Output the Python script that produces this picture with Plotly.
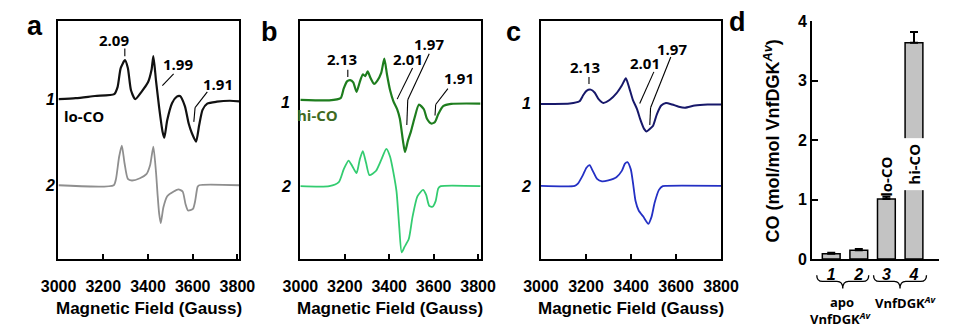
import plotly.graph_objects as go

W, H = 957, 335

# ---------------- data ----------------
# Panel a : lo-CO  (field in Gauss, derivative intensity in a.u.)
a1_field = [3000, 3077, 3163, 3249, 3264, 3278, 3297, 3310, 3324, 3343, 3371, 3400, 3416, 3424, 3436, 3450,
            3465, 3473, 3486, 3508, 3529, 3543, 3565, 3582, 3596, 3615, 3629, 3644, 3665, 3708, 3766, 3809]
a1_int = [0.5, 1.5, 3.8, 5.8, 13.2, 33.2, 41.5, 33.2, 9.8, 0.5, 8.2, 18.2, 31.5, 45.8, 19.8, -8.5,
          -33.5, -40.2, -21.8, -3.5, 3.2, 3.8, -6.8, -25.2, -35.2, -44.2, -26.8, -10.8, -4.2, -2.2, -1.2, -1.8]
a2_field = [3000, 3247, 3257, 3271, 3283, 3295, 3310, 3328, 3364, 3393, 3410, 3424, 3436, 3443, 3450, 3457,
            3469, 3486, 3515, 3536, 3555, 3568, 3579, 3601, 3611, 3622, 3629, 3809]
a2_int = [0, 0, 6.7, 30, 41.7, 23.4, 6.7, 5, 7.4, 11.7, 21.7, 40.7, 13.4, -10, -30, -40,
          -23.3, -11.6, -6.6, -4.3, -6.6, -20, -26.6, -25, -16.6, -1.6, 0, 0]

# Panel b : hi-CO
b1_field = [3000, 3130, 3181, 3195, 3210, 3224, 3238, 3253, 3267, 3281, 3292, 3303, 3315, 3332, 3346, 3364,
            3378, 3390, 3404, 3419, 3436, 3448, 3462, 3471, 3484, 3498, 3513, 3534, 3556, 3570, 3589, 3606,
            3621, 3643, 3679, 3811]
b1_int = [0, -0.6, 1.7, 11.7, 19.4, 20.7, 18.4, 8.4, 18.4, 26.7, 25, 30, 23.4, 16.7, 20, 28.4,
          43.4, 26.7, 10, -1.6, -10, -20, -43.3, -55, -43.3, -33.3, -20, -5, -10, -20, -25, -23.3,
          -15, -6.6, -4.3, -4]
b2_field = [3000, 3130, 3173, 3195, 3217, 3234, 3253, 3267, 3281, 3296, 3311, 3340, 3364, 3387, 3404, 3419,
            3433, 3445, 3456, 3469, 3488, 3505, 3527, 3552, 3566, 3580, 3595, 3609, 3621, 3632, 3811]
b2_int = [0, 0, 4.3, 17.7, 27, 21, 13.7, 27.7, 37, 24.3, 11.7, 16, 27.7, 39.3, 31, 14.3,
          -5.7, -42.3, -69.7, -64, -55.7, -32.3, -10.7, -4, -9, -20.7, -21.7, -15.7, -2.3, 0, 0]

# Panel c
c1_field = [3000, 3128, 3171, 3188, 3202, 3221, 3239, 3256, 3277, 3306, 3335, 3359, 3377, 3391, 3408, 3427,
            3441, 3458, 3469, 3484, 3498, 3515, 3534, 3555, 3583, 3612, 3640, 3683, 3740, 3800]
c1_int = [0, 0.3, 2.7, 9.3, 13.7, 15, 11.7, 5, 1, 4.3, 11, 19.3, 27, 17.7, 4.3, -5.7,
          -16.3, -26.3, -29, -26.3, -23, -10.7, -1.7, 1, -0.7, -3, -4, -1.7, -0.7, -0.7]
c2_field = [3000, 3150, 3164, 3185, 3202, 3216, 3230, 3249, 3271, 3299, 3335, 3359, 3373, 3384, 3399, 3410,
            3420, 3434, 3455, 3477, 3491, 3505, 3524, 3541, 3555, 3800]
c2_int = [0, 0, 2.3, 10.7, 19, 21.7, 15.7, 7.3, 4.7, 5.7, 9, 15.7, 23.3, 25, 17.3, 0.7,
          -16, -26, -32.7, -40, -32.7, -17.7, -4.3, -0.3, 0, 0]

field_ticks = [3000, 3200, 3400, 3600, 3800]

# Panel d : CO bound per VnfDGK
bar_pos = [1, 2, 3, 4]
bar_labels = ["1", "2", "3", "4"]
co_values = [0.09, 0.15, 1.01, 3.64]
co_errors = [0.015, 0.02, 0.04, 0.18]
co_ticks = [0, 1, 2, 3, 4]

# ---------------- helpers ----------------
def PX(x):
    return x / W

def PY(y):
    return 1 - y / H

TICKFONT = dict(family="Liberation Sans, Arial", size=16, color="black", weight="bold")
LBLFONT = dict(family="Open Sans", size=15, color="black", weight="bold")

fig = go.Figure()

def spec(xs, ys, off, color, width, ax):
    fig.add_trace(go.Scatter(
        x=xs, y=[off + v for v in ys], mode="lines",
        line=dict(color=color, width=width, shape="spline", smoothing=0.6),
        xaxis="x" + ax, yaxis="y" + ax, showlegend=False, hoverinfo="skip"))

spec(a1_field, a1_int, 167.5, "#111111", 2.2, "")
spec(a2_field, a2_int, 77.3, "#8f8f8f", 1.8, "")
spec(b1_field, b1_int, 167.3, "#1e7d1e", 2.2, "2")
spec(b2_field, b2_int, 76.3, "#33cc70", 1.8, "2")
spec(c1_field, c1_int, 163.0, "#17186a", 2.0, "3")
spec(c2_field, c2_int, 76.7, "#2430c4", 1.8, "3")

fig.add_trace(go.Bar(
    x=bar_pos, y=co_values, width=0.645,
    marker=dict(color="#c3c3c3", line=dict(color="black", width=1.5)),
    error_y=dict(type="data", symmetric=False, array=co_errors, arrayminus=[0] * len(co_errors),
                 color="black", thickness=2, width=4),
    xaxis="x4", yaxis="y4", showlegend=False, hoverinfo="skip"))

spec_y_dom = [PY(264), PY(14)]

def spec_xaxis(x0, x1, rng):
    return dict(domain=[PX(x0), PX(x1)], range=rng, showline=True, mirror=True, linecolor="black",
                linewidth=1.6, ticks="inside", ticklen=5, tickwidth=1.5, tickcolor="black",
                tickvals=field_ticks, tickfont=TICKFONT, ticklabelstandoff=12,
                showgrid=False, zeroline=False)

def spec_yaxis(anchor):
    return dict(domain=spec_y_dom, range=[0, 250], showline=True, mirror=True, linecolor="black",
                linewidth=1.6, ticks="", showticklabels=False, showgrid=False, zeroline=False,
                anchor=anchor)

fig.update_layout(
    width=W, height=H, margin=dict(l=0, r=0, t=0, b=0), autosize=False,
    paper_bgcolor="white", plot_bgcolor="white",
    xaxis=dict(spec_xaxis(42, 230, [2999.5, 3808.6]), anchor="y"),
    yaxis=spec_yaxis("x"),
    xaxis2=dict(spec_xaxis(293.3, 480.7, [2999.5, 3811.6]), anchor="y2"),
    yaxis2=spec_yaxis("x2"),
    xaxis3=dict(spec_xaxis(543.3, 730.7, [2999.5, 3800.5]), anchor="y3"),
    yaxis3=spec_yaxis("x3"),
    xaxis4=dict(domain=[PX(825), 1.0], range=[0.302, 4.907], anchor="y4", showline=True,
                linecolor="black", linewidth=1.6, ticks="", tickvals=bar_pos,
                ticktext=["<i>%s</i>" % t for t in bar_labels], tickfont=TICKFONT,
                showgrid=False, zeroline=False),
    yaxis4=dict(domain=[PY(264.5), PY(14)], range=[0, 4], anchor="x4", showline=True,
                linecolor="black", linewidth=1.6, ticks="inside", ticklen=6, tickwidth=1.5,
                tickcolor="black", tickvals=co_ticks, tickfont=TICKFONT,
                showgrid=False, zeroline=False),
    bargap=0.3,
)

ann = []

def txt(s, x, y, font=None, **kw):
    d = dict(text=s, x=PX(x), y=PY(y), xref="paper", yref="paper", showarrow=False,
             xanchor="center", yanchor="middle", font=font or LBLFONT)
    d.update(kw)
    ann.append(d)

# panel letters
PL = dict(family="Liberation Sans, Arial", size=27, color="black", weight="bold")
txt("a", 18, 18.5, PL)
txt("b", 261, 25, PL)
txt("c", 515, 25, PL)
txt("d", 748, 15, PL)

# trace numbers
NUMF = dict(family="Liberation Sans, Arial", size=16, color="black", weight="bold", style="italic")
for x0, y1, y2 in [(33.5, 96.7, 186.7), (278.3, 100, 188.3), (528.3, 100.7, 187.7)]:
    txt("1", x0, y1, NUMF)
    txt("2", x0, y2, NUMF)

# axis titles
TITF = dict(family="Liberation Sans, Arial", size=17, color="black", weight="bold")
for cx in [136, 387, 637]:
    txt("Magnetic Field (Gauss)", cx, 316.7, TITF)
txt("CO (mol/mol VnfDGK<sup><i>Av</i></sup>)", 784, 140, dict(TITF, size=18), textangle=-90)

# g-value labels
txt("2.09", 100, 33.3)
txt("1.99", 166, 59.3)
txt("1.91", 208.3, 80)
txt("lo-CO", 68.3, 113.3)
txt("2.13", 336.7, 53.3)
txt("2.01", 405, 54)
txt("1.97", 426.7, 37.5)
txt("1.91", 458.3, 73.3)
txt("hi-CO", 311.7, 112.7, dict(LBLFONT, color="#3e6a22"))
txt("2.13", 589.3, 62.3)
txt("2.01", 651.7, 58.3)
txt("1.97", 680, 43.3)

# bar labels
BF = dict(family="Open Sans", size=15, color="black", weight="bold")
txt("lo-CO", 901.7, 178, BF, textangle=-90)
txt("hi-CO", 931, 164, BF, textangle=-90, bgcolor="white", borderpad=5)
SF = dict(family="Open Sans", size=13, color="black", weight="bold")
txt("apo", 856.7, 310, SF)
txt("VnfDGK<sup><i>Av</i></sup>", 855, 327.3, SF)
txt("VnfDGK<sup><i>Av</i></sup>", 921.7, 310, SF)

shapes = []

def seg(x0, y0, x1, y1, w=1.1):
    shapes.append(dict(type="line", xref="paper", yref="paper", x0=PX(x0), y0=PY(y0),
                       x1=PX(x1), y1=PY(y1), line=dict(color="black", width=w)))

# indicator lines for g-values
seg(111, 42.7, 111, 50.7)
seg(161.7, 69.3, 150, 81.7)
seg(196.7, 88.3, 184, 105)
seg(184, 105, 182.7, 120)
seg(342.7, 65, 342.7, 72.7)
seg(410, 63.3, 394, 96)
seg(427.3, 48.3, 405, 96.7)
seg(405, 96.7, 404, 123.3)
seg(446.7, 85, 434, 101.7)
seg(434, 101.7, 433.3, 113.3)
seg(593.3, 72.7, 593.3, 80)
seg(660.7, 67.3, 646, 100.7)
seg(678.3, 51.7, 657.3, 105)
seg(657.3, 105, 656.5, 123.3)

# braces below bars
def brace(xl, xr, ytop=281.5, ymid=288, ytip=295.5):
    xc = (xl + xr) / 2
    pts = [
        ("M", [(xl, ytop)]),
        ("Q", [(xl, ymid), (xl + 6, ymid)]),
        ("L", [(xc - 6, ymid)]),
        ("Q", [(xc, ymid), (xc, ytip)]),
        ("Q", [(xc, ymid), (xc + 6, ymid)]),
        ("L", [(xr - 6, ymid)]),
        ("Q", [(xr, ymid), (xr, ytop)]),
    ]
    s = ""
    for cmd, ps in pts:
        s += cmd + " " + " ".join("%.5f,%.5f" % (PX(a), PY(b)) for a, b in ps) + " "
    shapes.append(dict(type="path", xref="paper", yref="paper", path=s.strip(),
                       line=dict(color="black", width=1.3)))

brace(830, 884)
brace(889, 944)

fig.update_layout(annotations=ann, shapes=shapes)
fig.write_html("out.html", config={"responsive": False, "displayModeBar": False},
               post_script="document.body.style.margin='0';document.body.style.padding='0';"
                           "document.body.style.overflow='hidden';")
